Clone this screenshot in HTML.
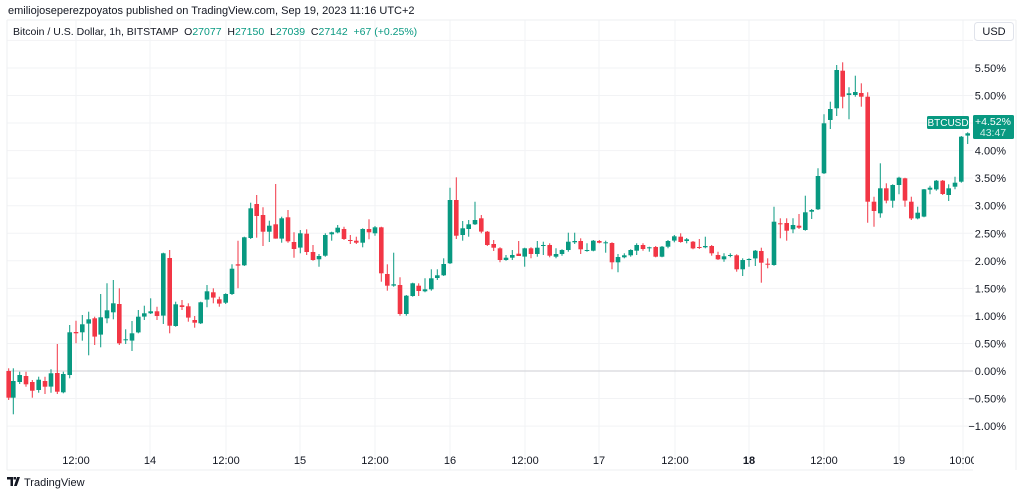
<!DOCTYPE html>
<html><head><meta charset="utf-8"><style>
html,body{margin:0;padding:0;background:#fff;width:1024px;height:496px;overflow:hidden;font-family:"Liberation Sans",sans-serif}
</style></head><body>
<svg id="s" width="1024" height="496" xmlns="http://www.w3.org/2000/svg" font-family="Liberation Sans, sans-serif"></svg>
<script>
var S=document.getElementById('s'),h='';
function L(x1,y1,x2,y2,c,w){h+='<line x1="'+x1+'" y1="'+y1+'" x2="'+x2+'" y2="'+y2+'" stroke="'+c+'" stroke-width="'+(w||1)+'"/>';}
function T(x,y,t,o){h+='<text x="'+x+'" y="'+y+'" '+(o||'')+'>'+t+'</text>';}
// grid
var gy=['#f0f1f3'];
for(var k=-2;k<=12;k++){var y=371-k*27.55;if(y>20&&y<470)L(7,y,973,y,'#f2f3f5');}
var vx=[76,150,226,300,375,450,525,599,675,749,824,899,963];
vx.forEach(function(x){L(x,20,x,470,'#f2f3f5');});
L(7,371,973,371,'#d6d8dc',1.2);
L(7,20,7,470,'#eeeff1');L(7,470,973,470,'#eeeff1');L(7,20,1016,20,'#eeeff1');L(1016,20,1016,470,'#eeeff1');
// candles: [zx, open, close, high, low]
var z1=[[26,603,683,595,690],[40,683,633,595,733],[59,636,615,605,642],[78,618,643,605,650],[97,636,662,630,683],[116,660,629,620,668],[135,633,650,620,672],[153,650,610,598,668],[172,609,665,522,672],[190,667,612,605,670],[209,615,487,465,625],[228,486,490,452,520],[247,487,463,435,512],[266,461,448,425,556],[284,445,500,440,525],[302,494,442,372,532],[321,445,421,340,460],[340,427,400,330,448],[358,402,520,355,525],[377,511,508,478,522],[396,512,490,453,543],[415,487,440,420,490],[433,440,430,407,450],[452,430,424,385,432],[471,424,438,410,450],[490,437,250,248,462],[509,264,467,240,490],[527,468,403,395,470],[546,406,411,390,420],[565,409,443,400,455],[584,450,458,438,473],[602,460,397,395,462],[621,389,364,345,412],[640,367,383,355,400],[658,388,401,380,410],[677,398,372,370,402],[696,372,296,283,375],[714,283,287,212,355],[733,286,202,200,288],[752,204,115,98,207],[770,102,138,75,203],[789,135,185,112,228],[808,185,167,152,216],[827,163,206,42,206],[845,206,145,140,218],[864,142,214,120,218],[882,216,237,187,263],[901,233,190,180,250],[920,191,246,178,255],[939,246,270,225,272],[957,268,258,252,290],[976,257,195,190,260]];
var z2=[[35,193,187,185,212],[53,187,173,165,190],[72,177,207,170,210],[91,210,213,195,222],[109,212,218,200,222],[128,218,177,175,232],[147,177,187,148,208],[165,190,172,168,197],[184,172,310,170,335],[202,312,347,283,362],[221,347,343,248,350],[240,345,432,322,437],[259,432,377,375,437],[278,378,340,338,380],[296,347,363,340,378],[315,364,358,325,367],[334,358,325,298,362],[352,324,316,298,330],[371,316,282,265,318],[390,280,90,53,282],[409,90,197,22,207],[428,195,175,153,212],[446,177,163,150,200],[465,163,150,95,165],[484,145,185,135,190],[502,185,225,183,228],[521,222,233,210,243],[540,235,270,232,277],[558,270,263,255,272],[577,263,255,240,270],[596,251,258,213,258],[614,260,235,233,290],[633,235,252,232,265],[652,252,233,213,260],[670,228,225,215,255],[689,225,257,220,262],[708,260,252,235,265],[726,252,240,238,257],[745,240,215,188,245],[764,217,213,188,222],[782,213,238,205,252],[801,242,240,220,245],[820,242,212,210,244],[838,213,218,210,220],[857,219,217,212,248],[876,219,277,217,298],[894,277,261,252,307],[913,262,256,250,265],[932,256,240,238,260],[950,242,225,220,255],[969,225,237,220,242]];
var z3=[[28,578,577,575,590],[47,576,605,573,607],[66,605,575,573,607],[84,575,558,555,580],[103,557,544,540,562],[122,545,561,535,563],[140,558,553,549,565],[159,560,580,558,583],[178,576,578,552,582],[196,577,573,545,580],[215,573,595,570,602],[234,600,613,590,615],[252,613,604,595,620],[271,603,600,595,607],[290,601,643,598,650],[308,643,615,610,663],[327,614,612,610,635],[346,610,587,585,633],[364,588,623,578,683],[383,626,628,610,640],[402,630,500,455,632],[421,505,508,490,550],[440,504,527,490,557],[459,523,510,490,535],[477,512,518,477,522],[496,525,472,422,527],[515,470,465,462,492],[534,463,363,340,465],[552,355,205,178,357],[571,195,162,140,222],[590,160,45,30,183],[608,47,125,22,160],[627,120,115,97,193],[646,120,111,62,125],[664,114,125,85,155],[683,125,440,112,503],[702,440,468,425,515],[721,475,400,325,488],[739,400,437,385,445],[758,437,390,388,458],[777,390,368,365,418],[795,370,437,368,455],[814,440,490,425,495],[833,490,473,455,493],[852,485,403,402,487],[870,404,398,392,418],[889,403,377,375,407],[908,377,417,375,420],[926,420,400,388,438],[945,395,383,365,403],[964,380,245,243,383],[983,242,235,232,267]];
var G='#089981',R='#f23645';
function draw(arr,x0,y0){arr.forEach(function(c){var x=x0+c[0]/3,o=y0+c[1]/3,cl=y0+c[2]/3,hi=y0+c[3]/3,lo=y0+c[4]/3;var col=cl<o?G:(cl>o?R:G);
L(x.toFixed(1),hi.toFixed(1),x.toFixed(1),lo.toFixed(1),col,1);
var t=Math.min(o,cl),bh=Math.max(Math.abs(cl-o),1);
h+='<rect x="'+(x-2.3).toFixed(1)+'" y="'+t.toFixed(1)+'" width="4.6" height="'+bh.toFixed(1)+'" fill="'+col+'"/>';});}
draw(z1,0,170);draw(z2,320,170);draw(z3,640,55);
// right axis labels
var labs=['6.00%','5.50%','5.00%','4.50%','4.00%','3.50%','3.00%','2.50%','2.00%','1.50%','1.00%','0.50%','0.00%','\u22120.50%','\u22121.00%'];
for(var i=0;i<labs.length;i++){var v=6-0.5*i,y=371-v/0.5*27.55;if(i==0)continue;if(v==4.5)continue;T(1006,y+4,labs[i],'font-size="11" fill="#131722" text-anchor="end"');}
// price labels
h+='<rect x="927" y="116" width="42" height="13" rx="1.5" fill="#089981"/>';T(948,126,'BTCUSD','font-size="10" fill="#fff" text-anchor="middle"');
h+='<rect x="973" y="115" width="41" height="24" rx="1.5" fill="#089981"/>';T(993,125,'+4.52%','font-size="10.5" fill="#fff" text-anchor="middle"');T(993,136,'43:47','font-size="10.5" fill="#cfeee8" text-anchor="middle"');
// USD box
h+='<rect x="974.5" y="22.5" width="39" height="18" rx="3" fill="#fff" stroke="#e0e3eb"/>';T(994,35,'USD','font-size="11" fill="#131722" text-anchor="middle"');
// time labels
var tl=['12:00','14','12:00','15','12:00','16','12:00','17','12:00','18','12:00','19','10:00'];
h+='<clipPath id="cp"><rect x="0" y="440" width="974" height="40"/></clipPath><g clip-path="url(#cp)">';
tl.forEach(function(t,i){T(vx[i],464,t,'font-size="11" fill="#131722" text-anchor="middle"'+(t=='18'?' font-weight="bold"':''));});
h+='</g>';
// header
h+='<rect x="0" y="0" width="1024" height="19" fill="#fff"/>';
T(8,14,'emiliojoseperezpoyatos published on TradingView.com, Sep 19, 2023 11:16 UTC+2','font-size="11" fill="#131722"');
h+='<text x="13" y="35" font-size="10.5" fill="#131722">Bitcoin / U.S. Dollar, 1h, BITSTAMP &#160;O<tspan fill="#089981">27077</tspan> &#160;H<tspan fill="#089981">27150</tspan> &#160;L<tspan fill="#089981">27039</tspan> &#160;C<tspan fill="#089981">27142</tspan> &#160;<tspan fill="#089981">+67 (+0.25%)</tspan></text>';
// footer logo
h+='<path d="M7 477h6v9h-2.5v-6.5H7z M13.5 477h2.5v2.5h-2.5z M17 477h3l-3.2 9h-2.8z" fill="#131722"/>';
T(24,486,'TradingView','font-size="11" fill="#131722"');
S.innerHTML=h;
</script>
</body></html>
